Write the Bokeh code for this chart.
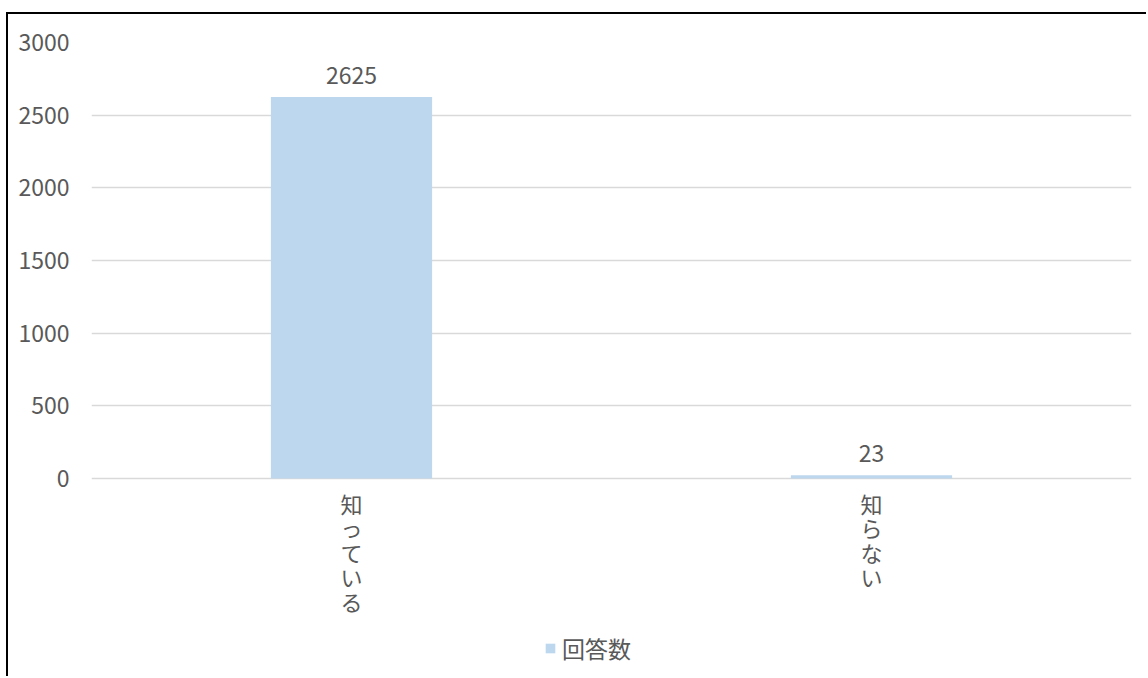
from bokeh.plotting import figure
from bokeh.models import (ColumnDataSource, LabelSet, Legend, LegendItem, FixedTicker, Range1d)
from bokeh.core.properties import value
from bokeh.embed import file_html
from bokeh.resources import INLINE

categories = ["知っている", "知らない"]
values = [2625, 23]
series_name = "回答数"
y_ticks = [0, 500, 1000, 1500, 2000, 2500, 3000]

FONT = "Noto Sans CJK JP"
TXT = "#595959"
BAR = "#bdd7ee"
GRID = "#d9d9d9"

src = ColumnDataSource(dict(cat=categories, val=values, lab=[str(v) for v in values]))

# per-character stacked category labels (upright vertical text)
cx, cch, coff = [], [], []
for c in categories:
    for i, ch in enumerate(c):
        cx.append(c)
        cch.append(ch)
        coff.append(8 + i * 24.5)
csrc = ColumnDataSource(dict(x=cx, y=[0] * len(cx), t=cch, off=coff))

p = figure(x_range=categories, y_range=Range1d(-1321, 3000), width=1140, height=664,
           output_backend="svg", toolbar_location=None,
           min_border_left=83, min_border_right=17, min_border_top=28, min_border_bottom=8)
p.styles = {"border-left": "2px solid black", "border-top": "2px solid black",
            "margin-left": "6px", "margin-top": "12px"}
p.outline_line_color = None

r = p.vbar(x="cat", top="val", width=0.31, source=src, fill_color=BAR, line_color=None)

p.xaxis.visible = False
p.yaxis.ticker = FixedTicker(ticks=y_ticks)
p.yaxis.axis_line_color = None
p.yaxis.major_tick_line_color = None
p.yaxis.minor_tick_line_color = None
p.yaxis.major_label_standoff = 16
p.yaxis.major_label_text_font = FONT
p.yaxis.major_label_text_font_size = "23px"
p.yaxis.major_label_text_color = TXT

p.xgrid.grid_line_color = None
p.ygrid.ticker = FixedTicker(ticks=y_ticks)
p.ygrid.grid_line_color = GRID
p.ygrid.grid_line_width = 1.5

p.text(x="x", y="y", text="t", y_offset="off", source=csrc, text_align="center",
       text_baseline="top", text_font=value(FONT), text_font_size="22px", text_color=TXT)

labels = LabelSet(x="cat", y="val", text="lab", source=src, text_align="center",
                  text_baseline="bottom", y_offset=13, text_font=value(FONT),
                  text_font_size="23px", text_color=TXT)
p.add_layout(labels)

legend = Legend(items=[LegendItem(label=series_name, renderers=[r])],
                orientation="horizontal", location=(453, 5),
                glyph_width=12, glyph_height=12, label_standoff=6,
                label_text_font=FONT, label_text_font_size="23px",
                label_text_color=TXT, border_line_color=None,
                background_fill_alpha=0, padding=2, margin=0)
p.add_layout(legend)

open("out.html", "w").write(file_html(p, INLINE))
